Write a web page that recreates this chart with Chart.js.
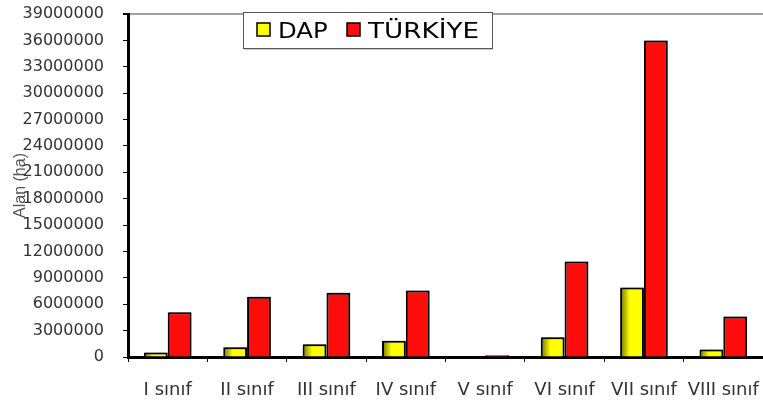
<!DOCTYPE html>
<html>
<head>
<meta charset="utf-8">
<script src="https://cdn.jsdelivr.net/npm/chart.js@4"></script>
<style>
  html, body { margin: 0; padding: 0; background: #fff; }
  #wrap { width: 763px; height: 402px; position: relative; }
</style>
</head>
<body>
<div id="wrap"><canvas id="chart"></canvas></div>
<script>
// ---- data ----
const categories = ['I sınıf', 'II sınıf', 'III sınıf', 'IV sınıf', 'V sınıf', 'VI sınıf', 'VII sınıf', 'VIII sınıf'];
const dapValues = [500000, 1100000, 1450000, 1850000, 0, 2250000, 7900000, 850000];
const turkiyeValues = [5100000, 6850000, 7300000, 7550000, 200000, 10850000, 36000000, 4600000];
const seriesLabels = ['DAP', 'TÜRKİYE'];
const yMin = 0, yMax = 39000000, yStep = 3000000;

const YELLOW = '#ffff00';
const RED = '#ff0c0c';
const CAT_PCT = 0.6;

// yellow bars get a dark-to-light shading on the left side
function dapFill(ctx) {
  const chart = ctx.chart;
  const xs = chart.scales && chart.scales.x;
  if (!xs || ctx.dataIndex === undefined) return YELLOW;
  const center = xs.getPixelForValue(ctx.dataIndex);
  const w = xs.width / categories.length * CAT_PCT / 2;
  if (!isFinite(center) || !isFinite(w) || w <= 0) return YELLOW;
  const g = chart.ctx.createLinearGradient(center - w, 0, center, 0);
  g.addColorStop(0, '#6e6e00');
  g.addColorStop(0.4, YELLOW);
  g.addColorStop(1, YELLOW);
  return g;
}

// soft shadow around the bars
const barShadow = {
  id: 'barShadow',
  beforeDatasetsDraw(chart) {
    const c = chart.ctx;
    c.save();
    c.shadowColor = 'rgba(0,0,0,0.35)';
    c.shadowBlur = 2;
    c.shadowOffsetX = 1;
    c.shadowOffsetY = -1;
  },
  afterDatasetsDraw(chart) {
    chart.ctx.restore();
  }
};

// boxed legend sitting on top of the plot border
const boxLegend = {
  id: 'boxLegend',
  afterDraw(chart) {
    const c = chart.ctx;
    const colors = [YELLOW, RED];
    c.save();
    c.fillStyle = '#fff';
    c.fillRect(243, 12, 249, 36);
    c.strokeStyle = '#555';
    c.lineWidth = 1;
    c.strokeRect(243.5, 12.5, 249, 36);
    c.fillStyle = '#ccc';
    c.fillRect(244, 49, 249, 1);
    const items = [{ mx: 257, tx: 278, sx: 1.16 }, { mx: 347, tx: 368, sx: 1.25 }];
    c.font = '21px "DejaVu Sans"';
    c.textBaseline = 'alphabetic';
    chart.data.datasets.forEach((ds, i) => {
      const it = items[i];
      c.fillStyle = colors[i];
      c.fillRect(it.mx, 23, 13, 13);
      c.strokeStyle = '#000';
      c.lineWidth = 1.5;
      c.strokeRect(it.mx, 23, 13, 13);
      c.save();
      c.translate(it.tx, 37.5);
      c.scale(it.sx, 1);
      c.fillStyle = '#000';
      c.fillText(ds.label, 0, 0);
      c.restore();
    });
    c.restore();
  }
};

new Chart(document.getElementById('chart'), {
  type: 'bar',
  data: {
    labels: categories,
    datasets: [
      { label: seriesLabels[0], data: dapValues, backgroundColor: dapFill, borderColor: '#000', borderWidth: 2 },
      { label: seriesLabels[1], data: turkiyeValues, backgroundColor: RED, borderColor: '#000', borderWidth: 2 }
    ]
  },
  options: {
    responsive: true,
    maintainAspectRatio: false,
    animation: false,
    devicePixelRatio: 1,
    layout: { padding: { top: 0, left: 0, right: 0, bottom: 0 } },
    datasets: { bar: { categoryPercentage: CAT_PCT, barPercentage: 1.0 } },
    plugins: { legend: { display: false }, tooltip: { enabled: false } },
    scales: {
      x: {
        offset: true,
        grid: { offset: true, drawOnChartArea: false, tickLength: 5, color: '#000', lineWidth: 1 },
        border: { color: '#000', width: 3 },
        ticks: { color: '#333', font: { family: 'DejaVu Sans', size: 18 }, padding: 18, maxRotation: 0, autoSkip: false },
        afterFit(scale) { scale.height = 45; scale.paddingLeft = 0; scale.paddingRight = 0; }
      },
      y: {
        min: yMin,
        max: yMax,
        ticks: {
          stepSize: yStep,
          color: '#333',
          font: { family: 'DejaVu Sans', size: 16 },
          padding: 19,
          callback: v => String(v)
        },
        grid: {
          drawOnChartArea: true,
          tickLength: 5,
          tickColor: '#000',
          color: ctx => (ctx.tick && ctx.tick.value === yMax ? '#a0a0a0' : 'rgba(0,0,0,0)'),
          lineWidth: ctx => (ctx.tick && ctx.tick.value === yMax ? 2 : 1)
        },
        border: { color: '#000', width: 3 },
        title: {
          display: true,
          text: 'Alan (ha)',
          color: '#555',
          font: { family: 'Liberation Sans', size: 16 },
          padding: { top: 11, bottom: 0 }
        },
        afterFit(scale) { scale.width = 128; scale.paddingTop = 14; }
      }
    }
  },
  plugins: [barShadow, boxLegend]
});
</script>
</body>
</html>
